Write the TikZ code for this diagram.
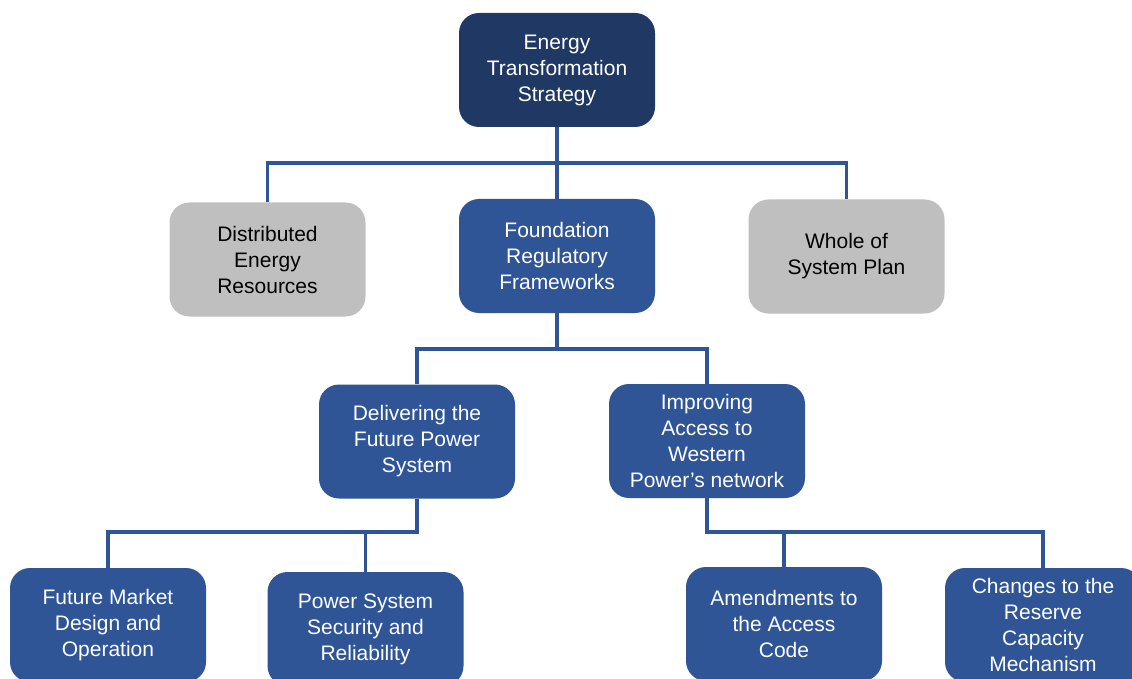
\documentclass[tikz,border=0pt]{standalone}
\usepackage{fontspec}
\setmainfont{Liberation Sans}
\definecolor{navy}{HTML}{203864}
\definecolor{midblue}{HTML}{2F5597}
\definecolor{boxgray}{HTML}{BFBFBF}
\begin{document}
\begin{tikzpicture}[x=1pt,y=-1pt,
    box/.style={rounded corners=20pt,minimum width=196pt,minimum height=114pt,
        align=center,text=white,fill=midblue,font=\fontsize{21}{26}\selectfont},
    topbox/.style={box,fill=navy},
    sidebox/.style={box,fill=boxgray,text=black},
    link/.style={draw=midblue,line width=3.5pt}]
    \useasboundingbox[fill=white] (0,0) rectangle (1132,679);
    % boxes
    \node[topbox]  (ets) at (557,70)  {Energy\\Transformation\\Strategy};
    \node[sidebox] (der) at (267.5,259.5) {Distributed\\Energy\\Resources};
    \node[box]     (frf) at (557,256) {Foundation\\Regulatory\\Frameworks};
    \node[sidebox] (wsp) at (846.5,256.5) {Whole of\\System Plan};
    \node[box]     (dfp) at (417,441.5) {Delivering the\\Future Power\\System};
    \node[box]     (iaw) at (707,441) {Improving\\Access to\\Western\\Power’s network};
    \node[box]     (fmd) at (108,625) {Future Market\\Design and\\Operation};
    \node[box]     (pss) at (365.5,629) {Power System\\Security and\\Reliability};
    \node[box]     (ama) at (784,624) {Amendments to\\the Access\\Code};
    \node[box]     (crc) at (1043,625) {Changes to the\\Reserve\\Capacity\\Mechanism};
    % connectors
    \coordinate (bus1) at (557,163);
    \coordinate (bus2) at (557,349);
    \coordinate (bus3) at (417,532);
    \coordinate (bus4) at (707,532);
    \draw[link] (der.north) |- (bus1) -| (wsp.north);
    \draw[link] (ets.south) -- (frf.north);
    \draw[link] (frf.south) -- (bus2);
    \draw[link] (dfp.north) |- (bus2) -| (iaw.north);
    \draw[link] (dfp.south) -- (bus3) -| (fmd.north);
    \draw[link] (pss.north) -- (pss.north |- bus3);
    \draw[link] (iaw.south) -- (bus4) -| (crc.north);
    \draw[link] (ama.north) -- (ama.north |- bus4);
\end{tikzpicture}
\end{document}
